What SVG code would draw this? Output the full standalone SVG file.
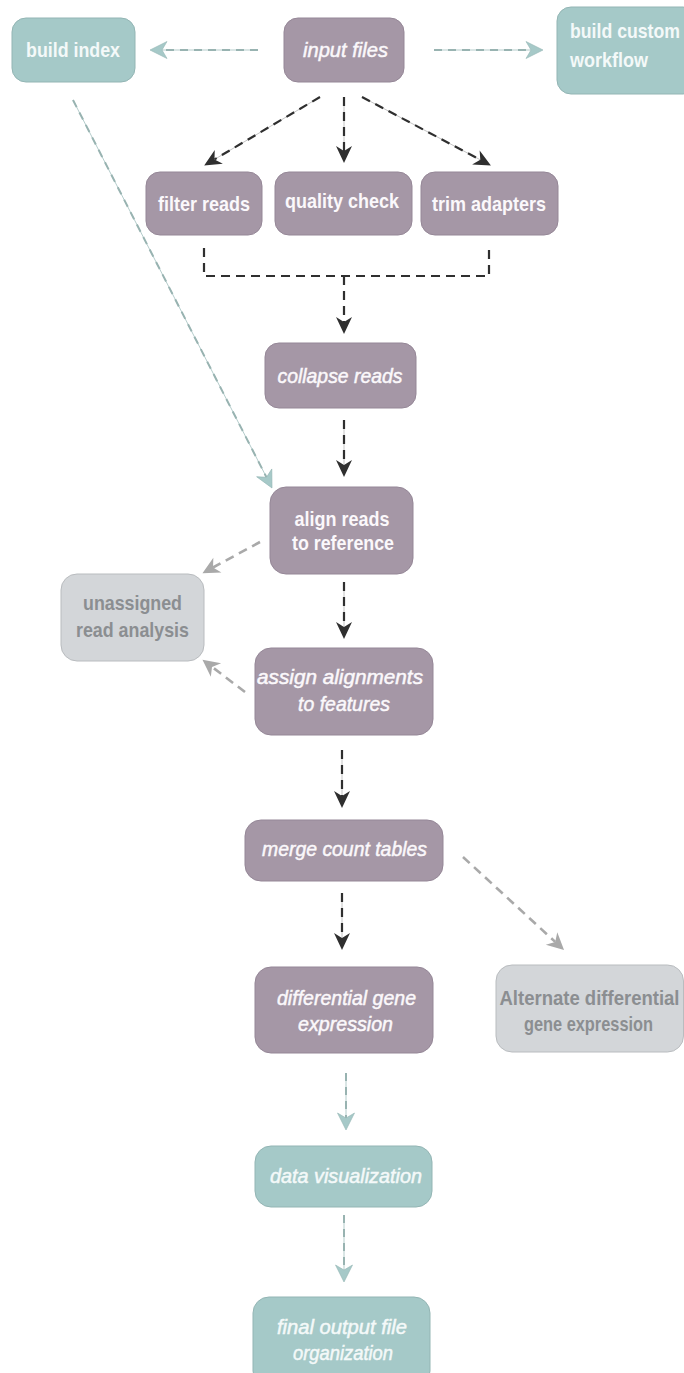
<svg xmlns="http://www.w3.org/2000/svg" width="684" height="1373" viewBox="0 0 684 1373">
<defs>
<style>
.p{fill:#a597a6;stroke:#958797;stroke-width:1}
.t{fill:#a5c9c8;stroke:#93b5b4;stroke-width:1}
.g{fill:#d3d6d9;stroke:#b9bcbf;stroke-width:1}
text{font-family:"Liberation Sans",Arial,sans-serif;font-size:21px;text-anchor:middle}
.wb{fill:#fbf8fb;font-weight:bold}
.wi{fill:#fbf8fb;font-style:italic;stroke:#fbf8fb;stroke-width:0.5}
.tb{fill:#f4f9f9;font-weight:bold}
.ti{fill:#f4f9f9;font-style:italic;stroke:#f4f9f9;stroke-width:0.5}
.gb{fill:#8b8e91;font-weight:bold}
.base{fill:none;stroke:#c4c4c4;stroke-width:1}
.dk{fill:none;stroke:#2f2f2f;stroke-width:2.2;stroke-dasharray:9 6;marker-end:url(#ad)}
.tl{fill:none;stroke:#b4cccb;stroke-width:1}
.td{fill:none;stroke:#98b3b1;stroke-width:2;stroke-dasharray:8 6;marker-end:url(#at)}
.gr{fill:none;stroke:#a9a9a9;stroke-width:2.6;stroke-dasharray:9 6;marker-end:url(#ag)}
</style>
<marker id="ad" markerUnits="userSpaceOnUse" markerWidth="20" markerHeight="20" refX="5" refY="8" orient="auto" overflow="visible"><path d="M0,0 L17,8 L0,16 L5,8 z" fill="#2f2f2f"/></marker>
<marker id="at" markerUnits="userSpaceOnUse" markerWidth="20" markerHeight="20" refX="5" refY="8.5" orient="auto" overflow="visible"><path d="M0,0 L17,8.5 L0,17 L5,8.5 z" fill="#a6c9c8" stroke="#93b5b4" stroke-width="0.6"/></marker>
<marker id="ag" markerUnits="userSpaceOnUse" markerWidth="20" markerHeight="20" refX="5" refY="8.5" orient="auto" overflow="visible"><path d="M0,0 L17,8.5 L0,17 L5,8.5 z" fill="#a9a9a9"/></marker>
</defs>
<rect width="684" height="1373" fill="#ffffff"/>
<g id="connectors">
<line class="tl" x1="258" y1="50" x2="162" y2="50"/>
<line class="td" x1="258" y1="50" x2="162" y2="50"/>
<line class="tl" x1="434" y1="50" x2="531" y2="50"/>
<line class="td" x1="434" y1="50" x2="531" y2="50"/>
<line class="base" x1="320" y1="97" x2="214.5" y2="159.4"/>
<line class="dk" x1="320" y1="97" x2="214.5" y2="159.4"/>
<line class="base" x1="344" y1="97" x2="344" y2="151"/>
<line class="dk" x1="344" y1="97" x2="344" y2="151"/>
<line class="base" x1="362" y1="97" x2="480.3" y2="159.8"/>
<line class="dk" x1="362" y1="97" x2="480.3" y2="159.8"/>
<path d="M204,248 V276 H489 V248" fill="none" stroke="#2f2f2f" stroke-width="2.2" stroke-dasharray="9 6"/>
<line class="dk" x1="344" y1="276" x2="344" y2="322"/>
<line class="base" x1="344" y1="420" x2="344" y2="465"/>
<line class="dk" x1="344" y1="420" x2="344" y2="465"/>
<line class="tl" x1="73" y1="100" x2="266.5" y2="477.3"/>
<line class="td" x1="73" y1="100" x2="266.5" y2="477.3"/>
<line class="gr" x1="260" y1="542" x2="213" y2="567.5"/>
<line class="gr" x1="245" y1="692" x2="212" y2="666.9"/>
<line class="base" x1="344" y1="582" x2="344" y2="627"/>
<line class="dk" x1="344" y1="582" x2="344" y2="627"/>
<line class="base" x1="342" y1="750" x2="342" y2="796"/>
<line class="dk" x1="342" y1="750" x2="342" y2="796"/>
<line class="base" x1="342" y1="893" x2="342" y2="938"/>
<line class="dk" x1="342" y1="893" x2="342" y2="938"/>
<line class="gr" x1="463" y1="857" x2="555.2" y2="941.9"/>
<line class="tl" x1="346" y1="1073" x2="346" y2="1118"/>
<line class="td" x1="346" y1="1073" x2="346" y2="1118"/>
<line class="tl" x1="344" y1="1215" x2="344" y2="1270"/>
<line class="td" x1="344" y1="1215" x2="344" y2="1270"/>
</g>
<g id="build-index"><rect class="t" x="12" y="18" width="123" height="64" rx="14"/><text class="tb" x="73" y="57" textLength="94" lengthAdjust="spacingAndGlyphs">build index</text></g>
<g id="input-files"><rect class="p" x="284" y="18" width="120" height="64" rx="14"/><text class="wi" x="345.5" y="57" textLength="85" lengthAdjust="spacingAndGlyphs">input files</text></g>
<g id="build-custom-workflow"><rect class="t" x="557" y="7" width="140" height="87" rx="14"/><text class="tb" x="570" y="38" style="text-anchor:start" textLength="110" lengthAdjust="spacingAndGlyphs">build custom</text><text class="tb" x="570" y="67" style="text-anchor:start" textLength="78" lengthAdjust="spacingAndGlyphs">workflow</text></g>
<g id="filter-reads"><rect class="p" x="146" y="172" width="116" height="63" rx="14"/><text class="wb" x="204" y="211" textLength="92" lengthAdjust="spacingAndGlyphs">filter reads</text></g>
<g id="quality-check"><rect class="p" x="275" y="172" width="137" height="63" rx="14"/><text class="wb" x="342" y="208" textLength="114" lengthAdjust="spacingAndGlyphs">quality check</text></g>
<g id="trim-adapters"><rect class="p" x="421" y="172" width="137" height="63" rx="14"/><text class="wb" x="489" y="211" textLength="114" lengthAdjust="spacingAndGlyphs">trim adapters</text></g>
<g id="collapse-reads"><rect class="p" x="265" y="343" width="151" height="65" rx="14"/><text class="wi" x="340" y="383" textLength="125" lengthAdjust="spacingAndGlyphs">collapse reads</text></g>
<g id="align-reads"><rect class="p" x="270" y="487" width="143" height="87" rx="16"/><text class="wb" x="342" y="526" textLength="95" lengthAdjust="spacingAndGlyphs">align reads</text><text class="wb" x="343" y="550" textLength="102" lengthAdjust="spacingAndGlyphs">to reference</text></g>
<g id="unassigned-read-analysis"><rect class="g" x="61" y="574" width="143" height="87" rx="16"/><text class="gb" x="132.5" y="610" textLength="99" lengthAdjust="spacingAndGlyphs">unassigned</text><text class="gb" x="132.5" y="637" textLength="113" lengthAdjust="spacingAndGlyphs">read analysis</text></g>
<g id="assign-alignments"><rect class="p" x="255" y="648" width="178" height="87" rx="16"/><text class="wi" x="340" y="684" textLength="166" lengthAdjust="spacingAndGlyphs">assign alignments</text><text class="wi" x="344" y="711" textLength="92" lengthAdjust="spacingAndGlyphs">to features</text></g>
<g id="merge-count-tables"><rect class="p" x="245" y="820" width="198" height="61" rx="16"/><text class="wi" x="344.5" y="856" textLength="165" lengthAdjust="spacingAndGlyphs">merge count tables</text></g>
<g id="differential-gene-expression"><rect class="p" x="255" y="967" width="178" height="86" rx="16"/><text class="wi" x="346.5" y="1005" textLength="139" lengthAdjust="spacingAndGlyphs">differential gene</text><text class="wi" x="345.5" y="1031" textLength="95" lengthAdjust="spacingAndGlyphs">expression</text></g>
<g id="alternate-differential"><rect class="g" x="496" y="965" width="187.5" height="87" rx="16"/><text class="gb" x="589.5" y="1005" textLength="180" lengthAdjust="spacingAndGlyphs">Alternate differential</text><text class="gb" x="588.5" y="1031" textLength="129" lengthAdjust="spacingAndGlyphs">gene expression</text></g>
<g id="data-visualization"><rect class="t" x="255" y="1146" width="177" height="61" rx="16"/><text class="ti" x="346" y="1183" textLength="152" lengthAdjust="spacingAndGlyphs">data visualization</text></g>
<g id="final-output"><rect class="t" x="253" y="1297" width="177" height="90" rx="16"/><text class="ti" x="342" y="1334" textLength="130" lengthAdjust="spacingAndGlyphs">final output file</text><text class="ti" x="343" y="1360" textLength="100" lengthAdjust="spacingAndGlyphs">organization</text></g>
</svg>
